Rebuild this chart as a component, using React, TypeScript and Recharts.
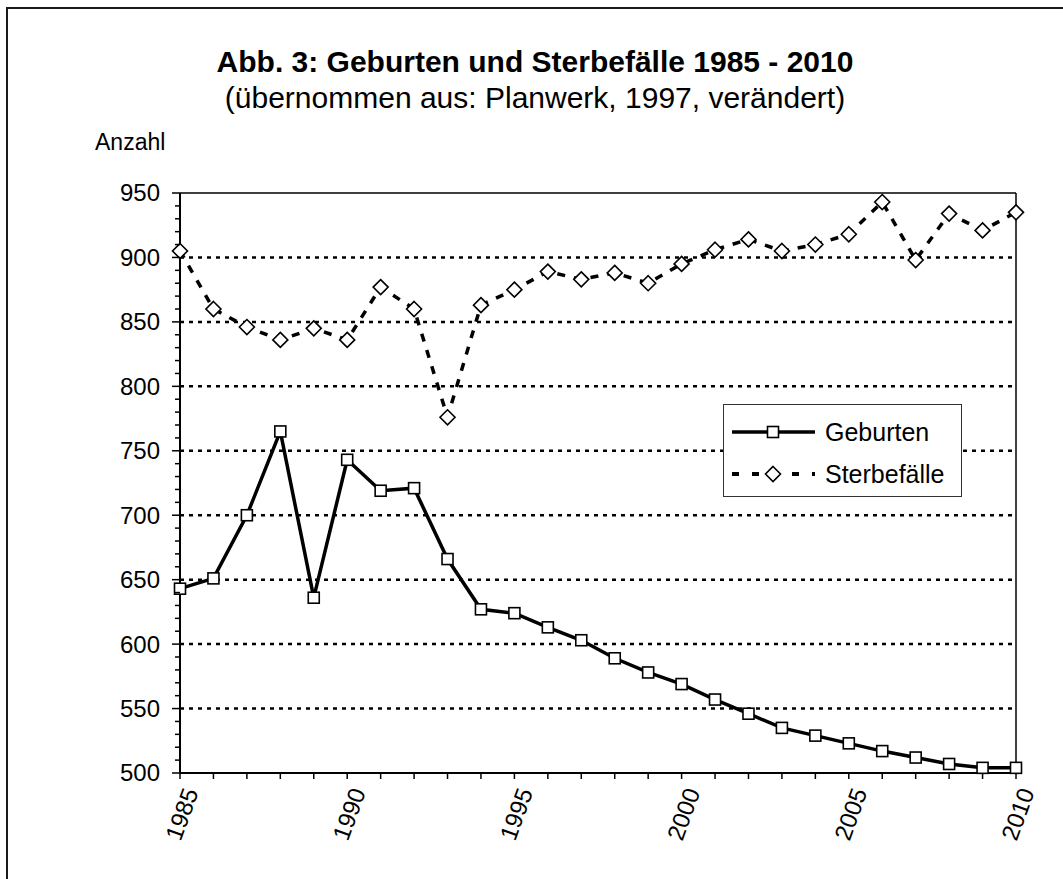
import { LineChart, Line, XAxis, YAxis, ReferenceLine, Legend } from "recharts";

// Geburten und Sterbefälle 1985 - 2010
const years = [
  1985, 1986, 1987, 1988, 1989, 1990, 1991, 1992, 1993, 1994, 1995, 1996, 1997,
  1998, 1999, 2000, 2001, 2002, 2003, 2004, 2005, 2006, 2007, 2008, 2009, 2010,
];
const births = [
  643, 651, 700, 765, 636, 743, 719, 721, 666, 627, 624, 613, 603,
  589, 578, 569, 557, 546, 535, 529, 523, 517, 512, 507, 504, 504,
];
const deaths = [
  905, 860, 846, 836, 845, 836, 877, 860, 776, 863, 875, 889, 883,
  888, 880, 895, 906, 914, 905, 910, 918, 943, 898, 934, 921, 935,
];

// axis ticks
const yTicks = [
  500, 510, 520, 530, 540, 550, 560, 570, 580, 590, 600, 610, 620, 630, 640,
  650, 660, 670, 680, 690, 700, 710, 720, 730, 740, 750, 760, 770, 780, 790,
  800, 810, 820, 830, 840, 850, 860, 870, 880, 890, 900, 910, 920, 930, 940, 950,
];
const yLabels = [500, 550, 600, 650, 700, 750, 800, 850, 900, 950];
const gridLines = [550, 600, 650, 700, 750, 800, 850, 900];
const xLabels = [1985, 1990, 1995, 2000, 2005, 2010];

const data = years.map((year, i) => ({
  year,
  Geburten: births[i],
  Sterbefälle: deaths[i],
}));

const FONT = "'Liberation Sans', Arial, sans-serif";

// square marker for Geburten
const SquareDot = (props: any) => {
  const { cx, cy, index } = props;
  return (
    <rect
      key={`sq-${index}`}
      x={cx - 5.5}
      y={cy - 5.5}
      width={11}
      height={11}
      fill="#fff"
      stroke="#000"
      strokeWidth={1.6}
    />
  );
};

// diamond marker for Sterbefälle
const DiamondDot = (props: any) => {
  const { cx, cy, index } = props;
  const r = 7.5;
  return (
    <polygon
      key={`dm-${index}`}
      points={`${cx},${cy - r} ${cx + r},${cy} ${cx},${cy + r} ${cx - r},${cy}`}
      fill="#fff"
      stroke="#000"
      strokeWidth={1.6}
    />
  );
};

const YTick = (props: any) => {
  const { x, y, payload } = props;
  const major = yLabels.includes(payload.value);
  return (
    <g>
      <line x1={x - (major ? 8 : 5)} x2={x} y1={y} y2={y} stroke="#000" strokeWidth={1.5} />
      {major && (
        <text
          x={x - 20}
          y={y}
          dy="0.35em"
          textAnchor="end"
          fontSize={24}
          fontFamily={FONT}
          fill="#000"
        >
          {payload.value}
        </text>
      )}
    </g>
  );
};

const XTick = (props: any) => {
  const { x, y, payload } = props;
  const labelled = xLabels.includes(payload.value);
  const tx = x + 11;
  const ty = y + 16;
  return (
    <g>
      <line x1={x} x2={x} y1={y} y2={y + 6} stroke="#000" strokeWidth={1.5} />
      {labelled && (
        <text
          x={tx}
          y={ty}
          dy="0.35em"
          textAnchor="end"
          fontSize={24}
          fontFamily={FONT}
          fill="#000"
          transform={`rotate(-70, ${tx}, ${ty})`}
        >
          {payload.value}
        </text>
      )}
    </g>
  );
};

const LegendBox = () => (
  <svg width={239} height={93} style={{ display: "block" }}>
    <rect x={0.5} y={0.5} width={238} height={92} fill="#fff" stroke="#333" strokeWidth={1} />
    <line x1={9} x2={92} y1={28} y2={28} stroke="#000" strokeWidth={3.5} />
    <rect x={44.5} y={22.5} width={11} height={11} fill="#fff" stroke="#000" strokeWidth={1.6} />
    <text x={102} y={28} dy="0.35em" fontSize={25} fontFamily={FONT} fill="#000">
      Geburten
    </text>
    <line x1={9} x2={92} y1={70} y2={70} stroke="#000" strokeWidth={4} strokeDasharray="7 13" />
    <polygon points="50,62.5 57.5,70 50,77.5 42.5,70" fill="#fff" stroke="#000" strokeWidth={1.6} />
    <text x={102} y={70} dy="0.35em" fontSize={25} fontFamily={FONT} fill="#000">
      Sterbefälle
    </text>
  </svg>
);

export default function App() {
  return (
    <div
      style={{
        position: "absolute",
        left: 0,
        top: 0,
        width: 1063,
        height: 879,
        overflow: "hidden",
        background: "#fff",
        fontFamily: FONT,
      }}
    >
      {/* outer frame, open to the right and bottom */}
      <div
        style={{
          position: "absolute",
          left: 6,
          top: 7,
          width: 1200,
          height: 1000,
          border: "2.5px solid #1a1a1a",
        }}
      />

      {/* titles */}
      <div
        style={{
          position: "absolute",
          left: 0,
          width: 1070,
          top: 45,
          textAlign: "center",
          fontSize: 30,
          fontWeight: "bold",
          lineHeight: "34px",
        }}
      >
        Abb. 3: Geburten und Sterbefälle 1985 - 2010
      </div>
      <div
        style={{
          position: "absolute",
          left: 0,
          width: 1070,
          top: 81,
          textAlign: "center",
          fontSize: 30,
          lineHeight: "34px",
        }}
      >
        (übernommen aus: Planwerk, 1997, verändert)
      </div>
      <div
        style={{
          position: "absolute",
          left: 95,
          top: 128,
          fontSize: 23,
          lineHeight: "28px",
        }}
      >
        Anzahl
      </div>

      <div style={{ position: "absolute", left: 0, top: 0 }}>
        <LineChart
          width={1063}
          height={879}
          data={data}
          margin={{ top: 193, right: 47, bottom: 46, left: 120 }}
        >
          <XAxis
            dataKey="year"
            type="number"
            domain={[1985, 2010]}
            ticks={years}
            interval={0}
            tickSize={0}
            tickMargin={0}
            height={60}
            axisLine={{ stroke: "#000", strokeWidth: 2 }}
            tickLine={false}
            tick={<XTick />}
          />
          <YAxis
            type="number"
            domain={[500, 950]}
            ticks={yTicks}
            interval={0}
            tickSize={0}
            tickMargin={0}
            width={60}
            axisLine={{ stroke: "#000", strokeWidth: 2 }}
            tickLine={false}
            tick={<YTick />}
          />
          {gridLines.map((v) => (
            <ReferenceLine
              key={v}
              y={v}
              stroke="#000"
              strokeWidth={2.5}
              strokeDasharray="4 5"
            />
          ))}
          <ReferenceLine y={950} stroke="#000" strokeWidth={1.5} />
          <ReferenceLine x={2010} stroke="#000" strokeWidth={1.5} />
          <Line
            dataKey="Sterbefälle"
            stroke="#000"
            strokeWidth={3.5}
            strokeDasharray="8 9"
            dot={<DiamondDot />}
            activeDot={false}
            isAnimationActive={false}
          />
          <Line
            dataKey="Geburten"
            stroke="#000"
            strokeWidth={3.5}
            dot={<SquareDot />}
            activeDot={false}
            isAnimationActive={false}
          />
          <Legend
            layout="vertical"
            align="center"
            verticalAlign="middle"
            content={<LegendBox />}
            wrapperStyle={{ left: 723, top: 404, width: 239, height: 93 }}
          />
        </LineChart>
      </div>
    </div>
  );
}
